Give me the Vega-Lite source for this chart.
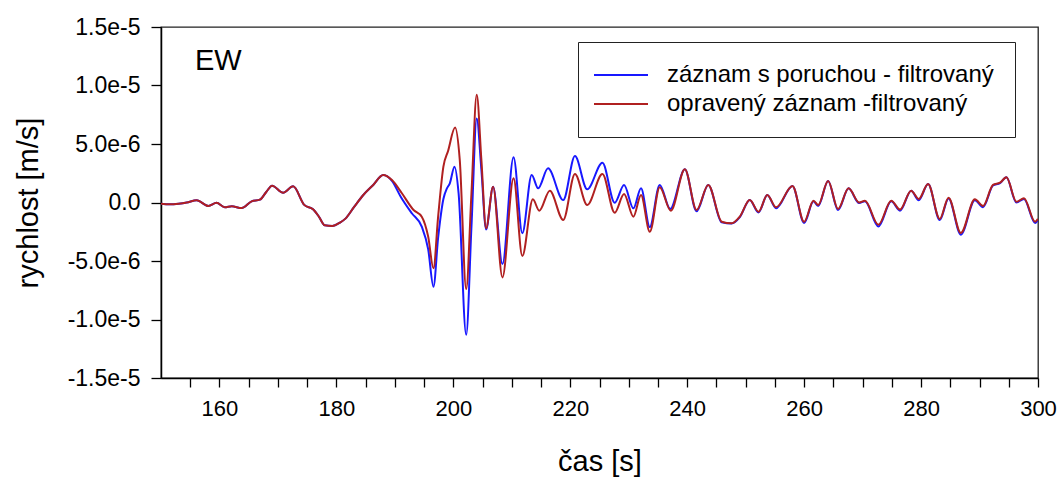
{
  "$schema": "https://vega.github.io/schema/vega-lite/v6.json",
  "width": 877,
  "height": 351,
  "autosize": {"type": "none"},
  "padding": {"left": 161, "top": 27, "right": 24, "bottom": 101},
  "background": "white",
  "config": {
    "font": "Liberation Sans",
    "view": {"stroke": "#222222", "strokeWidth": 1.3},
    "axis": {"grid": false, "domainColor": "black", "domainWidth": 1.5, "tickColor": "black", "tickWidth": 1.3, "labelColor": "black", "titleColor": "black", "labelFont": "Liberation Sans", "titleFont": "Liberation Sans", "titleFontWeight": "normal", "labelOverlap": false, "labelFlush": false}
  },
  "title": {"text": "EW", "anchor": "start", "frame": "group", "orient": "top", "offset": -60, "dx": 34, "fontSize": 29, "fontWeight": "normal", "font": "Liberation Sans", "color": "black"},
  "data": {"values": [
    {"s": "záznam s poruchou - filtrovaný", "t": 150.0, "v": -0.1e-6},
    {"s": "záznam s poruchou - filtrovaný", "t": 151.5, "v": -0.15e-6},
    {"s": "záznam s poruchou - filtrovaný", "t": 153.0, "v": -0.1e-6},
    {"s": "záznam s poruchou - filtrovaný", "t": 154.4, "v": 0.0},
    {"s": "záznam s poruchou - filtrovaný", "t": 156.1, "v": 0.2e-6},
    {"s": "záznam s poruchou - filtrovaný", "t": 158.1, "v": -0.3e-6},
    {"s": "záznam s poruchou - filtrovaný", "t": 159.5, "v": -0.03e-6},
    {"s": "záznam s poruchou - filtrovaný", "t": 160.9, "v": -0.41e-6},
    {"s": "záznam s poruchou - filtrovaný", "t": 162.1, "v": -0.32e-6},
    {"s": "záznam s poruchou - filtrovaný", "t": 163.8, "v": -0.48e-6},
    {"s": "záznam s poruchou - filtrovaný", "t": 165.5, "v": 0.1e-6},
    {"s": "záznam s poruchou - filtrovaný", "t": 166.9, "v": 0.24e-6},
    {"s": "záznam s poruchou - filtrovaný", "t": 168.0, "v": 0.9e-6},
    {"s": "záznam s poruchou - filtrovaný", "t": 169.0, "v": 1.44e-6},
    {"s": "záznam s poruchou - filtrovaný", "t": 170.9, "v": 0.84e-6},
    {"s": "záznam s poruchou - filtrovaný", "t": 172.6, "v": 1.38e-6},
    {"s": "záznam s poruchou - filtrovaný", "t": 174.5, "v": -0.2e-6},
    {"s": "záznam s poruchou - filtrovaný", "t": 176.0, "v": -0.58e-6},
    {"s": "záznam s poruchou - filtrovaný", "t": 177.0, "v": -1.2e-6},
    {"s": "záznam s poruchou - filtrovaný", "t": 178.0, "v": -1.95e-6},
    {"s": "záznam s poruchou - filtrovaný", "t": 179.3, "v": -2.0e-6},
    {"s": "záznam s poruchou - filtrovaný", "t": 180.6, "v": -1.72e-6},
    {"s": "záznam s poruchou - filtrovaný", "t": 181.5, "v": -1.4e-6},
    {"s": "záznam s poruchou - filtrovaný", "t": 183.0, "v": -0.4e-6},
    {"s": "záznam s poruchou - filtrovaný", "t": 184.6, "v": 0.64e-6},
    {"s": "záznam s poruchou - filtrovaný", "t": 186.3, "v": 1.5e-6},
    {"s": "záznam s poruchou - filtrovaný", "t": 188.0, "v": 2.35e-6},
    {"s": "záznam s poruchou - filtrovaný", "t": 189.5, "v": 1.85e-6},
    {"s": "záznam s poruchou - filtrovaný", "t": 191.0, "v": 0.5e-6},
    {"s": "záznam s poruchou - filtrovaný", "t": 192.9, "v": -0.92e-6},
    {"s": "záznam s poruchou - filtrovaný", "t": 194.6, "v": -2.07e-6},
    {"s": "záznam s poruchou - filtrovaný", "t": 195.7, "v": -4.0e-6},
    {"s": "záznam s poruchou - filtrovaný", "t": 196.6, "v": -7.2e-6},
    {"s": "záznam s poruchou - filtrovaný", "t": 197.4, "v": -3.0e-6},
    {"s": "záznam s poruchou - filtrovaný", "t": 198.3, "v": 0.3e-6},
    {"s": "záznam s poruchou - filtrovaný", "t": 198.9, "v": 1.2e-6},
    {"s": "záznam s poruchou - filtrovaný", "t": 199.4, "v": 1.64e-6},
    {"s": "záznam s poruchou - filtrovaný", "t": 200.2, "v": 3.06e-6},
    {"s": "záznam s poruchou - filtrovaný", "t": 200.9, "v": 0.79e-6},
    {"s": "záznam s poruchou - filtrovaný", "t": 202.2, "v": -11.3e-6},
    {"s": "záznam s poruchou - filtrovaný", "t": 203.1, "v": -2.07e-6},
    {"s": "záznam s poruchou - filtrovaný", "t": 204.0, "v": 7.19e-6},
    {"s": "záznam s poruchou - filtrovaný", "t": 204.8, "v": 2.78e-6},
    {"s": "záznam s poruchou - filtrovaný", "t": 205.6, "v": -2.3e-6},
    {"s": "záznam s poruchou - filtrovaný", "t": 206.8, "v": 1.35e-6},
    {"s": "záznam s poruchou - filtrovaný", "t": 208.4, "v": -5.26e-6},
    {"s": "záznam s poruchou - filtrovaný", "t": 210.3, "v": 3.86e-6},
    {"s": "záznam s poruchou - filtrovaný", "t": 211.8, "v": -2.63e-6},
    {"s": "záznam s poruchou - filtrovaný", "t": 213.4, "v": 2.35e-6},
    {"s": "záznam s poruchou - filtrovaný", "t": 214.5, "v": 1.21e-6},
    {"s": "záznam s poruchou - filtrovaný", "t": 216.2, "v": 2.92e-6},
    {"s": "záznam s poruchou - filtrovaný", "t": 218.8, "v": 0.21e-6},
    {"s": "záznam s poruchou - filtrovaný", "t": 220.8, "v": 3.97e-6},
    {"s": "záznam s poruchou - filtrovaný", "t": 222.9, "v": 1.13e-6},
    {"s": "záznam s poruchou - filtrovaný", "t": 225.5, "v": 3.4e-6},
    {"s": "záznam s poruchou - filtrovaný", "t": 227.6, "v": -0.02e-6},
    {"s": "záznam s poruchou - filtrovaný", "t": 229.2, "v": 1.5e-6},
    {"s": "záznam s poruchou - filtrovaný", "t": 230.8, "v": -0.5e-6},
    {"s": "záznam s poruchou - filtrovaný", "t": 232.1, "v": 1.21e-6},
    {"s": "záznam s poruchou - filtrovaný", "t": 233.6, "v": -2.1e-6},
    {"s": "záznam s poruchou - filtrovaný", "t": 235.3, "v": 1.5e-6},
    {"s": "záznam s poruchou - filtrovaný", "t": 237.1, "v": -0.55e-6},
    {"s": "záznam s poruchou - filtrovaný", "t": 239.6, "v": 2.84e-6},
    {"s": "záznam s poruchou - filtrovaný", "t": 241.6, "v": -0.75e-6},
    {"s": "záznam s poruchou - filtrovaný", "t": 243.6, "v": 1.5e-6},
    {"s": "záznam s poruchou - filtrovaný", "t": 245.9, "v": -1.7e-6},
    {"s": "záznam s poruchou - filtrovaný", "t": 247.6, "v": -1.8e-6},
    {"s": "záznam s poruchou - filtrovaný", "t": 249.0, "v": -1.25e-6},
    {"s": "záznam s poruchou - filtrovaný", "t": 250.7, "v": 0.21e-6},
    {"s": "záznam s poruchou - filtrovaný", "t": 252.2, "v": -0.85e-6},
    {"s": "záznam s poruchou - filtrovaný", "t": 253.7, "v": 0.64e-6},
    {"s": "záznam s poruchou - filtrovaný", "t": 255.2, "v": -0.5e-6},
    {"s": "záznam s poruchou - filtrovaný", "t": 258.0, "v": 1.41e-6},
    {"s": "záznam s poruchou - filtrovaný", "t": 260.0, "v": -1.75e-6},
    {"s": "záznam s poruchou - filtrovaný", "t": 261.6, "v": 0.1e-6},
    {"s": "záznam s poruchou - filtrovaný", "t": 262.4, "v": -0.3e-6},
    {"s": "záznam s poruchou - filtrovaný", "t": 264.1, "v": 1.84e-6},
    {"s": "záznam s poruchou - filtrovaný", "t": 265.8, "v": -0.65e-6},
    {"s": "záznam s poruchou - filtrovaný", "t": 267.6, "v": 1.21e-6},
    {"s": "záznam s poruchou - filtrovaný", "t": 269.4, "v": -0.05e-6},
    {"s": "záznam s poruchou - filtrovaný", "t": 270.4, "v": 0.1e-6},
    {"s": "záznam s poruchou - filtrovaný", "t": 272.7, "v": -2.05e-6},
    {"s": "záznam s poruchou - filtrovaný", "t": 274.9, "v": 0.1e-6},
    {"s": "záznam s poruchou - filtrovaný", "t": 276.4, "v": -0.7e-6},
    {"s": "záznam s poruchou - filtrovaný", "t": 278.3, "v": 1.01e-6},
    {"s": "záznam s poruchou - filtrovaný", "t": 279.6, "v": 0.2e-6},
    {"s": "záznam s poruchou - filtrovaný", "t": 281.2, "v": 1.58e-6},
    {"s": "záznam s poruchou - filtrovaný", "t": 283.2, "v": -1.5e-6},
    {"s": "záznam s poruchou - filtrovaný", "t": 284.7, "v": 0.35e-6},
    {"s": "záznam s poruchou - filtrovaný", "t": 286.8, "v": -2.75e-6},
    {"s": "záznam s poruchou - filtrovaný", "t": 289.2, "v": 0.2e-6},
    {"s": "záznam s poruchou - filtrovaný", "t": 290.6, "v": -0.4e-6},
    {"s": "záznam s poruchou - filtrovaný", "t": 292.3, "v": 1.45e-6},
    {"s": "záznam s poruchou - filtrovaný", "t": 293.5, "v": 1.65e-6},
    {"s": "záznam s poruchou - filtrovaný", "t": 294.6, "v": 2.15e-6},
    {"s": "záznam s poruchou - filtrovaný", "t": 296.3, "v": 0.0},
    {"s": "záznam s poruchou - filtrovaný", "t": 297.6, "v": 0.3e-6},
    {"s": "záznam s poruchou - filtrovaný", "t": 299.5, "v": -1.75e-6},
    {"s": "záznam s poruchou - filtrovaný", "t": 300.0, "v": -1.5e-6},
    {"s": "opravený záznam -filtrovaný", "t": 150.0, "v": -0.1e-6},
    {"s": "opravený záznam -filtrovaný", "t": 151.5, "v": -0.15e-6},
    {"s": "opravený záznam -filtrovaný", "t": 153.0, "v": -0.1e-6},
    {"s": "opravený záznam -filtrovaný", "t": 154.4, "v": 0.0},
    {"s": "opravený záznam -filtrovaný", "t": 156.1, "v": 0.2e-6},
    {"s": "opravený záznam -filtrovaný", "t": 158.1, "v": -0.3e-6},
    {"s": "opravený záznam -filtrovaný", "t": 159.5, "v": -0.03e-6},
    {"s": "opravený záznam -filtrovaný", "t": 160.9, "v": -0.41e-6},
    {"s": "opravený záznam -filtrovaný", "t": 162.1, "v": -0.32e-6},
    {"s": "opravený záznam -filtrovaný", "t": 163.8, "v": -0.48e-6},
    {"s": "opravený záznam -filtrovaný", "t": 165.5, "v": 0.1e-6},
    {"s": "opravený záznam -filtrovaný", "t": 166.9, "v": 0.24e-6},
    {"s": "opravený záznam -filtrovaný", "t": 168.0, "v": 0.9e-6},
    {"s": "opravený záznam -filtrovaný", "t": 169.0, "v": 1.44e-6},
    {"s": "opravený záznam -filtrovaný", "t": 170.9, "v": 0.84e-6},
    {"s": "opravený záznam -filtrovaný", "t": 172.6, "v": 1.38e-6},
    {"s": "opravený záznam -filtrovaný", "t": 174.5, "v": -0.2e-6},
    {"s": "opravený záznam -filtrovaný", "t": 176.0, "v": -0.58e-6},
    {"s": "opravený záznam -filtrovaný", "t": 177.0, "v": -1.2e-6},
    {"s": "opravený záznam -filtrovaný", "t": 178.0, "v": -1.95e-6},
    {"s": "opravený záznam -filtrovaný", "t": 179.3, "v": -2.0e-6},
    {"s": "opravený záznam -filtrovaný", "t": 180.6, "v": -1.72e-6},
    {"s": "opravený záznam -filtrovaný", "t": 181.5, "v": -1.4e-6},
    {"s": "opravený záznam -filtrovaný", "t": 183.0, "v": -0.4e-6},
    {"s": "opravený záznam -filtrovaný", "t": 184.6, "v": 0.64e-6},
    {"s": "opravený záznam -filtrovaný", "t": 186.3, "v": 1.5e-6},
    {"s": "opravený záznam -filtrovaný", "t": 188.0, "v": 2.35e-6},
    {"s": "opravený záznam -filtrovaný", "t": 189.5, "v": 1.92e-6},
    {"s": "opravený záznam -filtrovaný", "t": 191.2, "v": 0.79e-6},
    {"s": "opravený záznam -filtrovaný", "t": 193.2, "v": -0.64e-6},
    {"s": "opravený záznam -filtrovaný", "t": 194.6, "v": -1.21e-6},
    {"s": "opravený záznam -filtrovaný", "t": 195.7, "v": -2.92e-6},
    {"s": "opravený záznam -filtrovaný", "t": 196.6, "v": -5.63e-6},
    {"s": "opravený záznam -filtrovaný", "t": 197.4, "v": -1.21e-6},
    {"s": "opravený záznam -filtrovaný", "t": 198.3, "v": 3.06e-6},
    {"s": "opravený záznam -filtrovaný", "t": 199.1, "v": 4.4e-6},
    {"s": "opravený záznam -filtrovaný", "t": 200.3, "v": 6.4e-6},
    {"s": "opravený záznam -filtrovaný", "t": 201.1, "v": 3.63e-6},
    {"s": "opravený záznam -filtrovaný", "t": 202.2, "v": -7.4e-6},
    {"s": "opravený záznam -filtrovaný", "t": 203.1, "v": 0.79e-6},
    {"s": "opravený záznam -filtrovaný", "t": 204.0, "v": 9.2e-6},
    {"s": "opravený záznam -filtrovaný", "t": 204.8, "v": 3.63e-6},
    {"s": "opravený záznam -filtrovaný", "t": 205.6, "v": -2.2e-6},
    {"s": "opravený záznam -filtrovaný", "t": 206.8, "v": 1.35e-6},
    {"s": "opravený záznam -filtrovaný", "t": 208.4, "v": -6.4e-6},
    {"s": "opravený záznam -filtrovaný", "t": 210.3, "v": 2.07e-6},
    {"s": "opravený záznam -filtrovaný", "t": 211.8, "v": -4.57e-6},
    {"s": "opravený záznam -filtrovaný", "t": 213.6, "v": 0.27e-6},
    {"s": "opravený záznam -filtrovaný", "t": 214.7, "v": -0.7e-6},
    {"s": "opravený záznam -filtrovaný", "t": 216.5, "v": 1.01e-6},
    {"s": "opravený záznam -filtrovaný", "t": 218.8, "v": -1.5e-6},
    {"s": "opravený záznam -filtrovaný", "t": 220.8, "v": 2.44e-6},
    {"s": "opravený záznam -filtrovaný", "t": 222.9, "v": -0.21e-6},
    {"s": "opravený záznam -filtrovaný", "t": 225.5, "v": 2.44e-6},
    {"s": "opravený záznam -filtrovaný", "t": 227.6, "v": -0.87e-6},
    {"s": "opravený záznam -filtrovaný", "t": 229.2, "v": 0.73e-6},
    {"s": "opravený záznam -filtrovaný", "t": 230.8, "v": -1.21e-6},
    {"s": "opravený záznam -filtrovaný", "t": 232.1, "v": 0.64e-6},
    {"s": "opravený záznam -filtrovaný", "t": 233.6, "v": -2.5e-6},
    {"s": "opravený záznam -filtrovaný", "t": 235.3, "v": 1.3e-6},
    {"s": "opravený záznam -filtrovaný", "t": 237.2, "v": -0.7e-6},
    {"s": "opravený záznam -filtrovaný", "t": 239.6, "v": 2.84e-6},
    {"s": "opravený záznam -filtrovaný", "t": 241.6, "v": -0.64e-6},
    {"s": "opravený záznam -filtrovaný", "t": 243.6, "v": 1.5e-6},
    {"s": "opravený záznam -filtrovaný", "t": 245.9, "v": -1.64e-6},
    {"s": "opravený záznam -filtrovaný", "t": 247.6, "v": -1.78e-6},
    {"s": "opravený záznam -filtrovaný", "t": 249.0, "v": -1.21e-6},
    {"s": "opravený záznam -filtrovaný", "t": 250.7, "v": 0.21e-6},
    {"s": "opravený záznam -filtrovaný", "t": 252.2, "v": -0.78e-6},
    {"s": "opravený záznam -filtrovaný", "t": 253.7, "v": 0.64e-6},
    {"s": "opravený záznam -filtrovaný", "t": 255.2, "v": -0.41e-6},
    {"s": "opravený záznam -filtrovaný", "t": 258.0, "v": 1.41e-6},
    {"s": "opravený záznam -filtrovaný", "t": 260.0, "v": -1.64e-6},
    {"s": "opravený záznam -filtrovaný", "t": 261.6, "v": 0.15e-6},
    {"s": "opravený záznam -filtrovaný", "t": 262.4, "v": -0.21e-6},
    {"s": "opravený záznam -filtrovaný", "t": 264.1, "v": 1.84e-6},
    {"s": "opravený záznam -filtrovaný", "t": 265.8, "v": -0.55e-6},
    {"s": "opravený záznam -filtrovaný", "t": 267.6, "v": 1.21e-6},
    {"s": "opravený záznam -filtrovaný", "t": 269.4, "v": 0.0},
    {"s": "opravený záznam -filtrovaný", "t": 270.4, "v": 0.15e-6},
    {"s": "opravený záznam -filtrovaný", "t": 272.7, "v": -1.9e-6},
    {"s": "opravený záznam -filtrovaný", "t": 274.9, "v": 0.15e-6},
    {"s": "opravený záznam -filtrovaný", "t": 276.4, "v": -0.6e-6},
    {"s": "opravený záznam -filtrovaný", "t": 278.3, "v": 1.01e-6},
    {"s": "opravený záznam -filtrovaný", "t": 279.6, "v": 0.3e-6},
    {"s": "opravený záznam -filtrovaný", "t": 281.2, "v": 1.58e-6},
    {"s": "opravený záznam -filtrovaný", "t": 283.2, "v": -1.4e-6},
    {"s": "opravený záznam -filtrovaný", "t": 284.7, "v": 0.41e-6},
    {"s": "opravený záznam -filtrovaný", "t": 286.8, "v": -2.6e-6},
    {"s": "opravený záznam -filtrovaný", "t": 289.2, "v": 0.27e-6},
    {"s": "opravený záznam -filtrovaný", "t": 290.6, "v": -0.3e-6},
    {"s": "opravený záznam -filtrovaný", "t": 292.3, "v": 1.5e-6},
    {"s": "opravený záznam -filtrovaný", "t": 293.5, "v": 1.69e-6},
    {"s": "opravený záznam -filtrovaný", "t": 294.6, "v": 2.15e-6},
    {"s": "opravený záznam -filtrovaný", "t": 296.3, "v": 0.07e-6},
    {"s": "opravený záznam -filtrovaný", "t": 297.6, "v": 0.36e-6},
    {"s": "opravený záznam -filtrovaný", "t": 299.5, "v": -1.64e-6},
    {"s": "opravený záznam -filtrovaný", "t": 300.0, "v": -1.4e-6}
  ]},
  "mark": {"type": "line", "interpolate": "monotone", "strokeWidth": 2, "clip": true},
  "encoding": {
    "x": {"field": "t", "type": "quantitative", "scale": {"domain": [150, 300], "nice": false, "zero": false},
      "axis": {"values": [155, 160, 165, 170, 175, 180, 185, 190, 195, 200, 205, 210, 215, 220, 225, 230, 235, 240, 245, 250, 255, 260, 265, 270, 275, 280, 285, 290, 295, 300],
        "tickSize": 9,
        "labelExpr": "datum.value % 20 === 0 ? datum.label : ''",
        "labelFontSize": 22, "labelPadding": 11, "title": "čas [s]", "titleFontSize": 29, "titlePadding": 28,
        "encode": {"ticks": {"update": {"y": {"signal": "datum.value % 20 === 0 ? 0 : -6"}, "y2": {"signal": "datum.value % 20 === 0 ? 9 : 0"}}}}}},
    "y": {"field": "v", "type": "quantitative", "scale": {"domain": [-1.5e-5, 1.5e-5], "nice": false, "zero": false},
      "axis": {"values": [-1.5e-5, -1.0e-5, -5.0e-6, 0, 5.0e-6, 1.0e-5, 1.5e-5], "tickSize": 10, "labelFontSize": 23, "labelPadding": 11, "labelExpr": "abs(datum.value) < 1e-12 ? '0.0' : replace(format(datum.value, '.1e'), '\u2212', '-')", "title": "rychlost [m/s]", "titleFontSize": 29, "titlePadding": 24}},
    "color": {"field": "s", "type": "nominal",
      "scale": {"domain": ["záznam s poruchou - filtrovaný", "opravený záznam -filtrovaný"], "range": ["#1818ff", "#b02020"]},
      "legend": {"orient": "none", "legendX": 417, "legendY": 15, "title": null, "strokeColor": "#222222", "fillColor": "white", "padding": 21, "labelFontSize": 24, "labelFont": "Liberation Sans", "labelColor": "black", "labelLimit": 0, "symbolType": "M-3,0L3,0", "symbolSize": 324, "symbolStrokeWidth": 2, "symbolOffset": 10, "labelOffset": 34, "rowPadding": 5}}
  }
}
